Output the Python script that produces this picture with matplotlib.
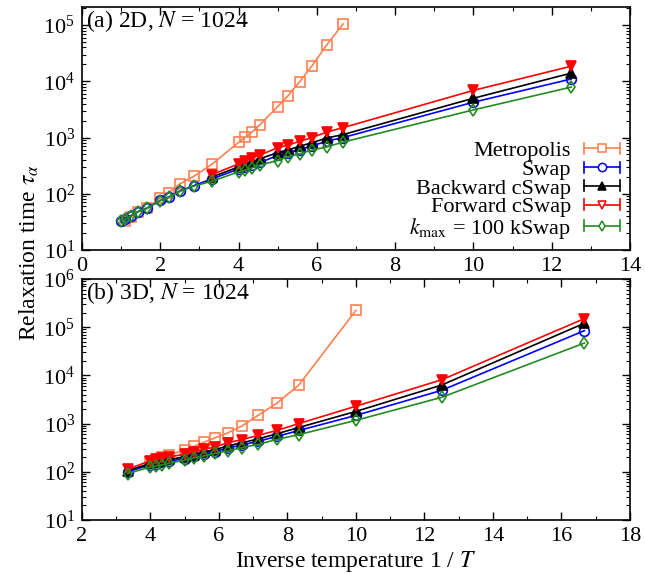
import matplotlib
matplotlib.use("Agg")
import matplotlib.pyplot as plt
from matplotlib.lines import Line2D
from matplotlib.ticker import LogLocator, MultipleLocator, LogFormatterMathtext, NullFormatter

plt.rcParams.update({
    "font.family": "Liberation Serif",
    "mathtext.fontset": "stix",
    "font.size": 16,
})

# ---- data ----
x_2d = [1.0, 1.11, 1.25, 1.43, 1.67, 2.0, 2.22, 2.5, 2.86, 3.33, 4.0, 4.17,
        4.35, 4.55, 5.0, 5.26, 5.56, 5.88, 6.25, 6.67, 10.0, 12.5]
x_2d_metro = [1.11, 1.25, 1.43, 1.67, 2.0, 2.22, 2.5, 2.86, 3.33, 4.0, 4.17,
              4.35, 4.55, 5.0, 5.26, 5.56, 5.88, 6.25, 6.67]
x_2d_cswap = [3.33, 4.0, 4.17, 4.35, 4.55, 5.0, 5.26, 5.56, 5.88, 6.25, 6.67,
              10.0, 12.5]

metro_2d = [33, 38, 48, 55, 85, 104, 150, 205, 340, 820, 1020, 1260, 1700,
            3550, 5500, 9800, 19000, 44000, 105000]
swap_2d = [33, 36, 41, 48, 56, 76, 88, 112, 140, 185, 275, 300, 325, 360,
           480, 540, 610, 710, 860, 1000, 4250, 11000]
back_2d = [200, 300, 330, 370, 420, 540, 600, 700, 810, 980, 1130, 5000, 14000]
forw_2d = [220, 340, 380, 435, 490, 660, 730, 860, 1000, 1250, 1500, 6900, 18600]
kswap_2d = [33, 35, 40, 48, 56, 75, 87, 110, 137, 168, 245, 265, 290, 325,
            390, 455, 515, 600, 680, 830, 3100, 7900]

x_3d = [3.33, 4.0, 4.17, 4.35, 4.55, 5.0, 5.26, 5.56, 5.88, 6.25, 6.67, 7.14,
        7.69, 8.33, 10.0, 12.5, 16.67]
x_3d_metro = [4.0, 4.17, 4.35, 4.55, 5.0, 5.26, 5.56, 5.88, 6.25, 6.67, 7.14,
              7.69, 8.33, 10.0]

metro_3d = [160, 178, 200, 225, 285, 335, 410, 505, 640, 890, 1480, 2650,
            6300, 224000]
swap_3d = [100, 140, 148, 156, 167, 188, 210, 235, 262, 310, 360, 430, 540,
           720, 1480, 4900, 85000]
back_3d = [105, 150, 160, 168, 180, 205, 228, 258, 287, 345, 400, 480, 615,
           830, 1790, 6300, 121000]
forw_3d = [113, 170, 180, 190, 205, 230, 259, 293, 325, 400, 465, 570, 720,
           1000, 2300, 8100, 151000]
kswap_3d = [92, 126, 133, 140, 152, 174, 194, 214, 240, 270, 317, 370, 470,
            590, 1170, 3500, 47000]

labels = ["Metropolis", "Swap", "Backward cSwap", "Forward cSwap",
          r"$k_{\mathrm{max}}$ = 100 kSwap"]

# styles: color, marker, filled in plot, filled in legend
styles = [
    ("#ff7f50", "s", False, False),
    ("#0000ff", "o", False, False),
    ("#000000", "^", True, True),
    ("#ff0000", "v", True, False),
    ("#228b22", "d", False, False),
]
msize = [7.5, 7, 6.5, 7, 6]


class CapHandler:
    """gnuplot-like errorlines key: line, marker, and end caps"""
    def __init__(self, color, marker, filled, ms):
        self.color, self.marker, self.filled, self.ms = color, marker, filled, ms

    def legend_artist(self, legend, orig, fontsize, handlebox):
        x0, y0 = handlebox.xdescent, handlebox.ydescent
        w, h = handlebox.width, handlebox.height
        ym = y0 + h / 2
        c = 4
        tr = handlebox.get_transform()
        arts = [
            Line2D([x0, x0 + w], [ym, ym], color=self.color, lw=1.2, transform=tr),
            Line2D([x0, x0], [ym - c, ym + c], color=self.color, lw=1.2, transform=tr),
            Line2D([x0 + w, x0 + w], [ym - c, ym + c], color=self.color, lw=1.2, transform=tr),
            Line2D([x0 + w / 2], [ym], marker=self.marker, ms=self.ms * 0.85,
                   mec=self.color, mfc=self.color if self.filled else "white",
                   mew=1.1, transform=tr),
        ]
        for a in arts:
            handlebox.add_artist(a)
        return arts[0]


def draw(ax, series):
    for (x, y), (col, mk, filled, _), ms in zip(series, styles, msize):
        ax.plot(x, y, color=col, lw=1.2, marker=mk, ms=ms, mec=col,
                mfc=col if filled else "none", mew=1.2)


def style_axis(ax, xmaj):
    ax.set_yscale("log")
    ax.xaxis.set_major_locator(MultipleLocator(xmaj))
    ax.xaxis.set_minor_locator(MultipleLocator(1))
    ax.yaxis.set_major_locator(LogLocator(base=10, numticks=10))
    ax.yaxis.set_minor_locator(LogLocator(base=10, subs=range(2, 10), numticks=20))
    ax.yaxis.set_major_formatter(LogFormatterMathtext())
    ax.yaxis.set_minor_formatter(NullFormatter())
    ax.tick_params(which="both", direction="in", top=True, right=True)
    ax.tick_params(which="major", length=6, width=1, labelsize=16, pad=5)
    ax.tick_params(which="minor", length=3, width=0.8)
    for s in ax.spines.values():
        s.set_linewidth(1.2)


fig = plt.figure(figsize=(6.45, 5.74), dpi=100)
ax1 = fig.add_axes([0.1271, 0.5645, 0.8496, 0.4233])
ax2 = fig.add_axes([0.1271, 0.0941, 0.8496, 0.4198])

draw(ax1, [(x_2d_metro, metro_2d), (x_2d, swap_2d), (x_2d_cswap, back_2d),
           (x_2d_cswap, forw_2d), (x_2d, kswap_2d)])
draw(ax2, [(x_3d_metro, metro_3d), (x_3d, swap_3d), (x_3d, back_3d),
           (x_3d, forw_3d), (x_3d, kswap_3d)])

style_axis(ax1, 2)
ax1.set_xlim(0, 14)
ax1.set_ylim(10, 2.1e5)
style_axis(ax2, 2)
ax2.set_xlim(2, 18)
ax2.set_ylim(10, 1e6)

ax1.text(0.008, 0.995, r"(a) 2D, $N$ = 1024", transform=ax1.transAxes,
         ha="left", va="top", fontsize=17)
ax2.text(0.008, 0.995, r"(b) 3D, $N$ = 1024", transform=ax2.transAxes,
         ha="left", va="top", fontsize=17)

ax2.set_xlabel(r"Inverse temperature 1 / $T$", fontsize=17, labelpad=2)
fig.text(0.045, 0.56, r"Relaxation time $\tau_\alpha$", rotation=90,
         ha="center", va="center", fontsize=17)

handles = [Line2D([], []) for _ in labels]
hmap = {h: CapHandler(c, m, lf, ms) for h, (c, m, _, lf), ms in zip(handles, styles, msize)}
ax1.legend(handles, labels, handler_map=hmap, loc="lower right",
           bbox_to_anchor=(0.99, 0.02), frameon=False, markerfirst=False,
           fontsize=16, handlelength=1.6, handletextpad=0.6, labelspacing=-0.08,
           borderaxespad=0.0, borderpad=0.2)

fig.savefig("out.png", dpi=100)
